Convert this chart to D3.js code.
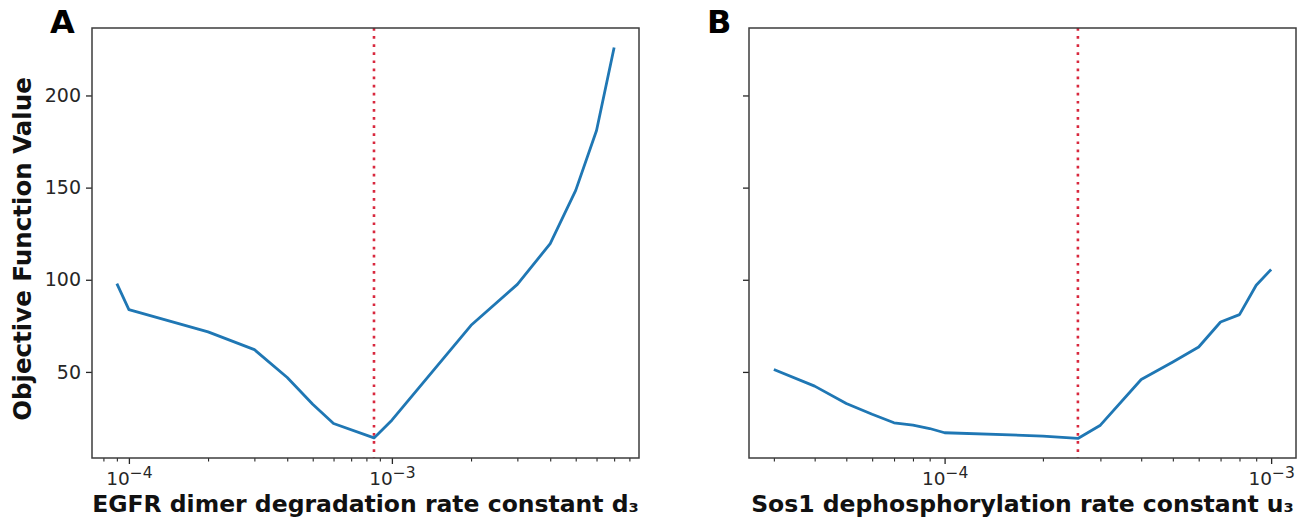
<!DOCTYPE html>
<html>
<head>
<meta charset="utf-8">
<script src="https://cdn.jsdelivr.net/npm/d3@7"></script>
<style>
  html, body { margin: 0; padding: 0; background: #fff; }
  svg { display: block; font-family: "DejaVu Sans", sans-serif; }
</style>
</head>
<body>
<svg id="chart" width="1312" height="520"></svg>
<script>
// Parameter scan: EGFR dimer degradation rate constant d3
const dimerRate = [9e-5, 1e-4, 2e-4, 3e-4, 4e-4, 5e-4, 6e-4, 8.55e-4, 1e-3, 2e-3, 3e-3, 4e-3, 5e-3, 6e-3, 7e-3];
const dimerObjective = [97.9, 83.8, 71.7, 62.1, 47, 32.5, 22, 14.2, 23.8, 75.3, 97.5, 119.6, 148.5, 181, 226];
const dimerOptimum = 8.55e-4;

// Parameter scan: Sos1 dephosphorylation rate constant u3
const sosRate = [3e-5, 4e-5, 5e-5, 6e-5, 7e-5, 8e-5, 9e-5, 1e-4, 2e-4, 2.56e-4, 3e-4, 4e-4, 5e-4, 6e-4, 7e-4, 8e-4, 9e-4, 1e-3];
const sosObjective = [51.3, 42.3, 32.9, 27, 22.4, 21.1, 19.3, 17, 15.2, 13.9, 21.1, 45.9, 55.4, 63.5, 77.1, 81.1, 97, 105.6];
const sosOptimum = 2.56e-4;

const yTicks = [50, 100, 150, 200];
const panelLetters = ["A", "B"];
const xLabels = ["EGFR dimer degradation rate constant d\u2083", "Sos1 dephosphorylation rate constant u\u2083"];
const yLabel = "Objective Function Value";

const svg = d3.select("#chart");

const panels = [
  { x: dimerRate, y: dimerObjective, opt: dimerOptimum, left: 92, right: 639, showY: true },
  { x: sosRate, y: sosObjective, opt: sosOptimum, left: 749, right: 1296, showY: false }
];
const plotTop = 28, plotBottom = 458;

// shared y range with a 5% margin around the data
const allY = dimerObjective.concat(sosObjective);
const yMin = d3.min(allY), yMax = d3.max(allY), yPad = (yMax - yMin) * 0.05;
const y = d3.scaleLinear().domain([yMin - yPad, yMax + yPad]).range([plotBottom, plotTop]);

const spineColor = "#3d3d3d";
const tickColor = "#262626";
const tickFont = 19;
const labelFont = 23.5;

panels.forEach((p, i) => {
  const lx = d3.extent(p.x).map(Math.log10);
  const pad = (lx[1] - lx[0]) * 0.05;
  const x = d3.scaleLog()
    .domain([Math.pow(10, lx[0] - pad), Math.pow(10, lx[1] + pad)])
    .range([p.left, p.right]);

  const g = svg.append("g");

  // decade ticks and 2..9 minor ticks
  const [d0, d1] = x.domain();
  const minor = [], major = [];
  for (let e = Math.floor(Math.log10(d0)); e <= Math.ceil(Math.log10(d1)); e++) {
    for (let m = 1; m <= 9; m++) {
      const v = m * Math.pow(10, e);
      if (v < d0 || v > d1) continue;
      (m === 1 ? major : minor).push(v);
    }
  }

  g.append("g")
    .attr("transform", `translate(0,${plotBottom})`)
    .call(d3.axisBottom(x).tickValues(minor).tickSize(3.5).tickFormat(""))
    .call(a => a.select(".domain").remove())
    .call(a => a.selectAll("line").attr("stroke", tickColor).attr("stroke-width", 1.1));

  const majorAxis = g.append("g")
    .attr("transform", `translate(0,${plotBottom})`)
    .call(d3.axisBottom(x).tickValues(major).tickSize(6).tickPadding(4).tickFormat(""));
  majorAxis.attr("font-size", 18.5).attr("font-family", "DejaVu Sans");
  majorAxis.select(".domain").remove();
  majorAxis.selectAll("line").attr("stroke", tickColor).attr("stroke-width", 1.3);
  majorAxis.selectAll(".tick text")
    .attr("fill", tickColor)
    .attr("font-size", 18.5)
    .attr("dy", null)
    .attr("y", 27)
    .each(function (v) {
      const t = d3.select(this);
      t.text("");
      t.append("tspan").attr("font-size", 18.5).text("10");
      t.append("tspan").attr("dy", -7.5).attr("font-size", 15.5).text("\u2212" + Math.round(-Math.log10(v)));
    });

  // y ticks
  const yAxis = g.append("g")
    .attr("transform", `translate(${p.left},0)`)
    .call(d3.axisLeft(y).tickValues(yTicks).tickSize(6).tickPadding(5).tickFormat(p.showY ? d3.format("d") : ""));
  yAxis.attr("font-size", tickFont).attr("font-family", "DejaVu Sans");
  yAxis.select(".domain").remove();
  yAxis.selectAll("line").attr("stroke", tickColor).attr("stroke-width", 1.3);
  yAxis.selectAll("text").attr("fill", tickColor).attr("font-size", tickFont);

  // optimum marker
  g.append("line")
    .attr("x1", x(p.opt)).attr("x2", x(p.opt))
    .attr("y1", plotTop).attr("y2", plotBottom)
    .attr("stroke", "#d8283e")
    .attr("stroke-width", 2.6)
    .attr("stroke-dasharray", "2.7 5.4");

  // objective curve
  g.append("path")
    .datum(p.x.map((v, k) => [v, p.y[k]]))
    .attr("fill", "none")
    .attr("stroke", "#1f77b4")
    .attr("stroke-width", 2.8)
    .attr("stroke-linejoin", "round")
    .attr("d", d3.line().x(d => x(d[0])).y(d => y(d[1])));

  // frame
  g.append("rect")
    .attr("x", p.left).attr("y", plotTop)
    .attr("width", p.right - p.left).attr("height", plotBottom - plotTop)
    .attr("fill", "none")
    .attr("stroke", spineColor)
    .attr("stroke-width", 1.5);

  // x label
  g.append("text")
    .attr("x", (p.left + p.right) / 2)
    .attr("y", 512)
    .attr("text-anchor", "middle")
    .attr("font-size", labelFont)
    .attr("font-weight", "bold")
    .attr("fill", "#111")
    .text(xLabels[i]);

  // panel letter
  g.append("text")
    .attr("x", p.left - 42)
    .attr("y", 32.5)
    .attr("font-size", 32)
    .attr("font-weight", "bold")
    .attr("fill", "#000")
    .text(panelLetters[i]);
});

// shared y label
svg.append("text")
  .attr("transform", "translate(31,249) rotate(-90)")
  .attr("text-anchor", "middle")
  .attr("font-size", 24.5)
  .attr("font-weight", "bold")
  .attr("fill", "#111")
  .text(yLabel);
</script>
</body>
</html>
